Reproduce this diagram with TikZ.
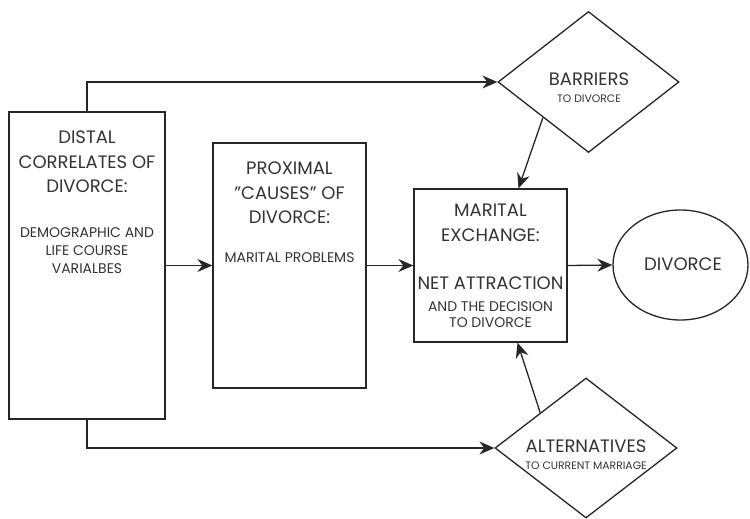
\documentclass[tikz,border=0pt]{standalone}
\usepackage{fontspec}
\setmainfont{Poppins}
\usetikzlibrary{shapes.geometric,arrows.meta,calc}
\begin{document}
\begin{tikzpicture}[x=1pt,y=-1pt,
  frame/.style={draw=black!85, line width=1.3pt, rectangle, inner sep=0pt},
  dia/.style={draw=black!85, line width=1.3pt, diamond, inner sep=0pt},
  oval/.style={draw=black!85, line width=1.3pt, ellipse, inner sep=0pt},
  conn/.style={draw=black!85, line width=1.3pt, -{Stealth[length=15pt,width=13pt,inset=5pt]}},
  bigtxt/.style={text=black!80, align=center, inner sep=0pt, anchor=north, font=\fontsize{18}{24.5}\selectfont},
  smalltxt/.style={text=black!80, align=center, inner sep=0pt, anchor=north, font=\fontsize{14}{18}\selectfont},
  tinytxt/.style={text=black!80, align=center, inner sep=0pt, anchor=north, font=\fontsize{10.8}{12}\selectfont}]
\useasboundingbox (0,0) rectangle (750,519);

% shapes
\node[frame, minimum width=156pt, minimum height=307pt] (distal) at (87,265.5) {};
\node[frame, minimum width=153pt, minimum height=245pt] (prox) at (289.5,265.5) {};
\node[frame, minimum width=153pt, minimum height=153pt] (marital) at (490.5,265.5) {};
\node[oval, minimum width=135pt, minimum height=110pt] (divorce) at (680.5,265) {};
\node[dia, minimum width=181pt, minimum height=141pt] (barriers) at (588.5,82) {};
\node[dia, minimum width=182pt, minimum height=140pt] (alt) at (586,448) {};

% texts
\node[bigtxt] (t1) at (87,131) {DISTAL\\CORRELATES OF\\DIVORCE:};
\node[smalltxt] (t2) at (87,227) {DEMOGRAPHIC AND\\LIFE COURSE\\VARIALBES};
\node[bigtxt] (t3) at (289.5,162) {PROXIMAL\\\symbol{34}CAUSES\symbol{34} OF\\DIVORCE:};
\node[smalltxt] (t4) at (289.5,252) {MARITAL PROBLEMS};
\node[bigtxt] (t5) at (490.5,204) {MARITAL\\EXCHANGE:};
\node[bigtxt] (t6) at (490.5,277) {NET ATTRACTION};
\node[smalltxt, font=\fontsize{14}{16.5}\selectfont] (t7) at (490.5,301) {AND THE DECISION\\TO DIVORCE};
\node[bigtxt] (t8) at (683,258) {DIVORCE};
\node[bigtxt] (t9) at (589,73) {BARRIERS};
\node[tinytxt] (t10) at (589,95) {TO DIVORCE};
\node[bigtxt] (t11) at (586,440) {ALTERNATIVES};
\node[tinytxt] (t12) at (586,462) {TO CURRENT MARRIAGE};

% connectors
\draw[conn] (distal.east) -- (prox.west);
\draw[conn] (prox.east) -- (marital.west);
\draw[conn] (marital.east) -- (divorce.west);
\draw[conn] (distal.north) |- (barriers.west);
\draw[conn] (distal.south) |- (alt.west);
\draw[conn] ($(barriers.west)!0.5!(barriers.south)$) -- ([xshift=28pt]marital.north);
\draw[conn] ($(alt.west)!0.5!(alt.north)$) -- ([xshift=27pt]marital.south);
\end{tikzpicture}
\end{document}
